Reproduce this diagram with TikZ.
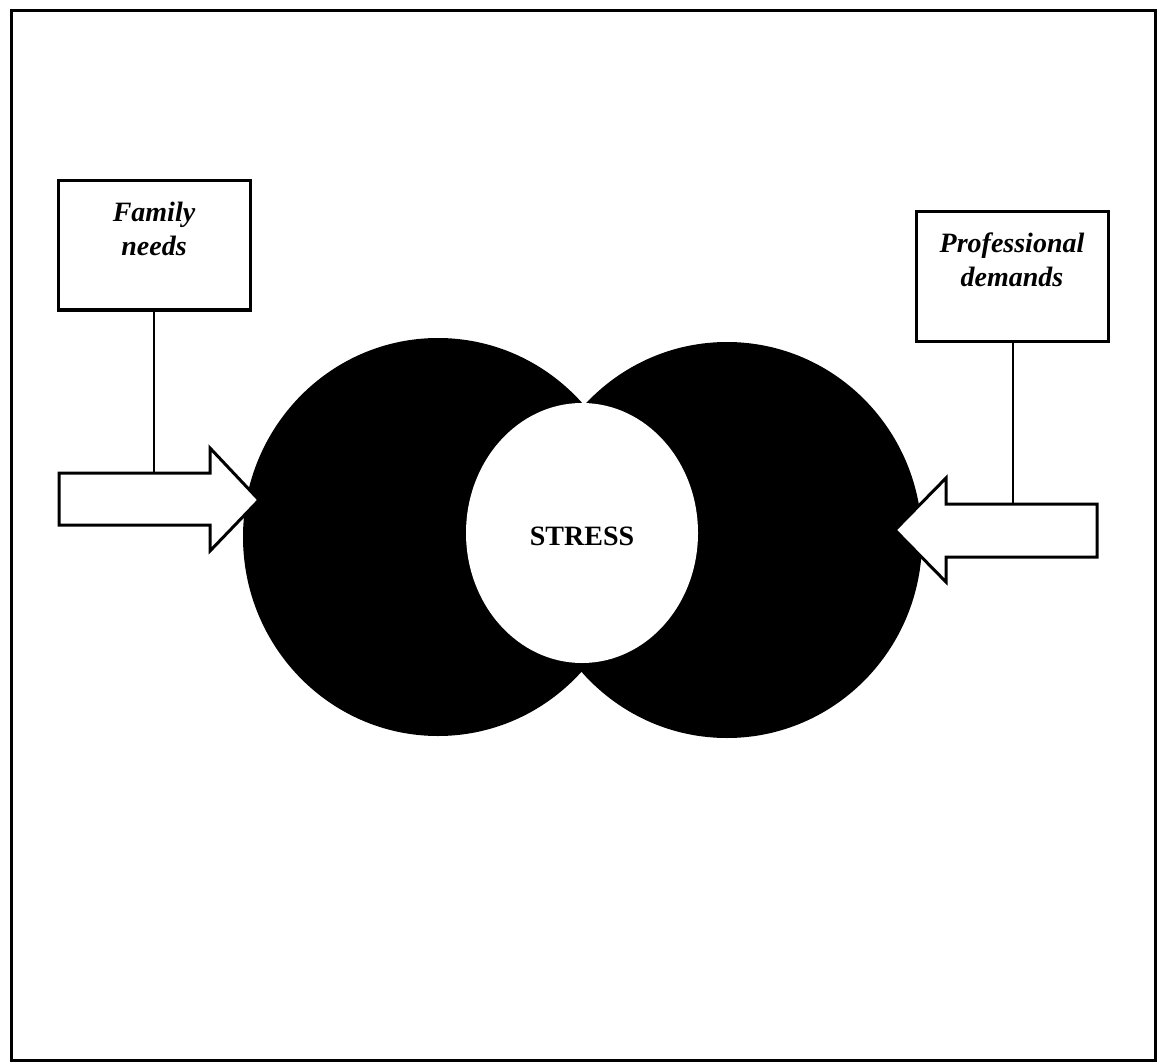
\documentclass[tikz,border=0pt]{standalone}
\usepackage{fontspec}
\setmainfont{Liberation Serif}
\begin{document}
\begin{tikzpicture}[x=1pt,y=-1pt,
  frame/.style={draw=black,line width=3pt},
  labelbox/.style={draw=black,line width=3pt,fill=white,minimum width=192pt,minimum height=129pt,inner sep=0pt},
  labeltext/.style={font=\fontsize{28}{34}\selectfont\bfseries\itshape,align=center,inner sep=0pt},
  blockarrow/.style={draw=black,line width=3pt,fill=white,line join=miter},
  link/.style={draw=black,line width=2.4pt}]
% page and outer frame
\useasboundingbox (0,0) rectangle (1158,1064);
\fill[white] (0,0) rectangle (1158,1064);
\draw[frame] (11,11) rectangle (1155,1060);

% two overlapping black discs with the white core
\fill[black] (438,537) ellipse [x radius=195pt,y radius=199pt];
\fill[black] (727,540) ellipse [x radius=195pt,y radius=198pt];
\fill[white] (582,533) ellipse [x radius=116pt,y radius=130pt];
\node[font=\fontsize{28}{34}\selectfont\bfseries,inner sep=0pt] (stress) at (582,536) {STRESS};

% block arrow from the left
\draw[blockarrow] (59,473) -- (210,473) -- (210,448) -- (259,500) -- (210,551) -- (210,525) -- (59,525) -- cycle;
\coordinate (famfoot) at (154,473);
% block arrow from the right
\draw[blockarrow] (1097,504) -- (946,504) -- (946,478) -- (895,530) -- (946,582) -- (946,557) -- (1097,557) -- cycle;
\coordinate (profoot) at (1013,504);

% label boxes
\node[labelbox] (fam) at (154.5,245.5) {};
\node[labeltext] (famtext) at (154,229) {Family\\needs};
\node[labelbox] (pro) at (1012.5,276.5) {};
\node[labeltext] (protext) at (1012,260) {Professional\\demands};

% connectors from the boxes down to the arrows
\draw[link] (fam.south -| famfoot) -- (famfoot);
\draw[link] (pro.south -| profoot) -- (profoot);
\end{tikzpicture}
\end{document}
